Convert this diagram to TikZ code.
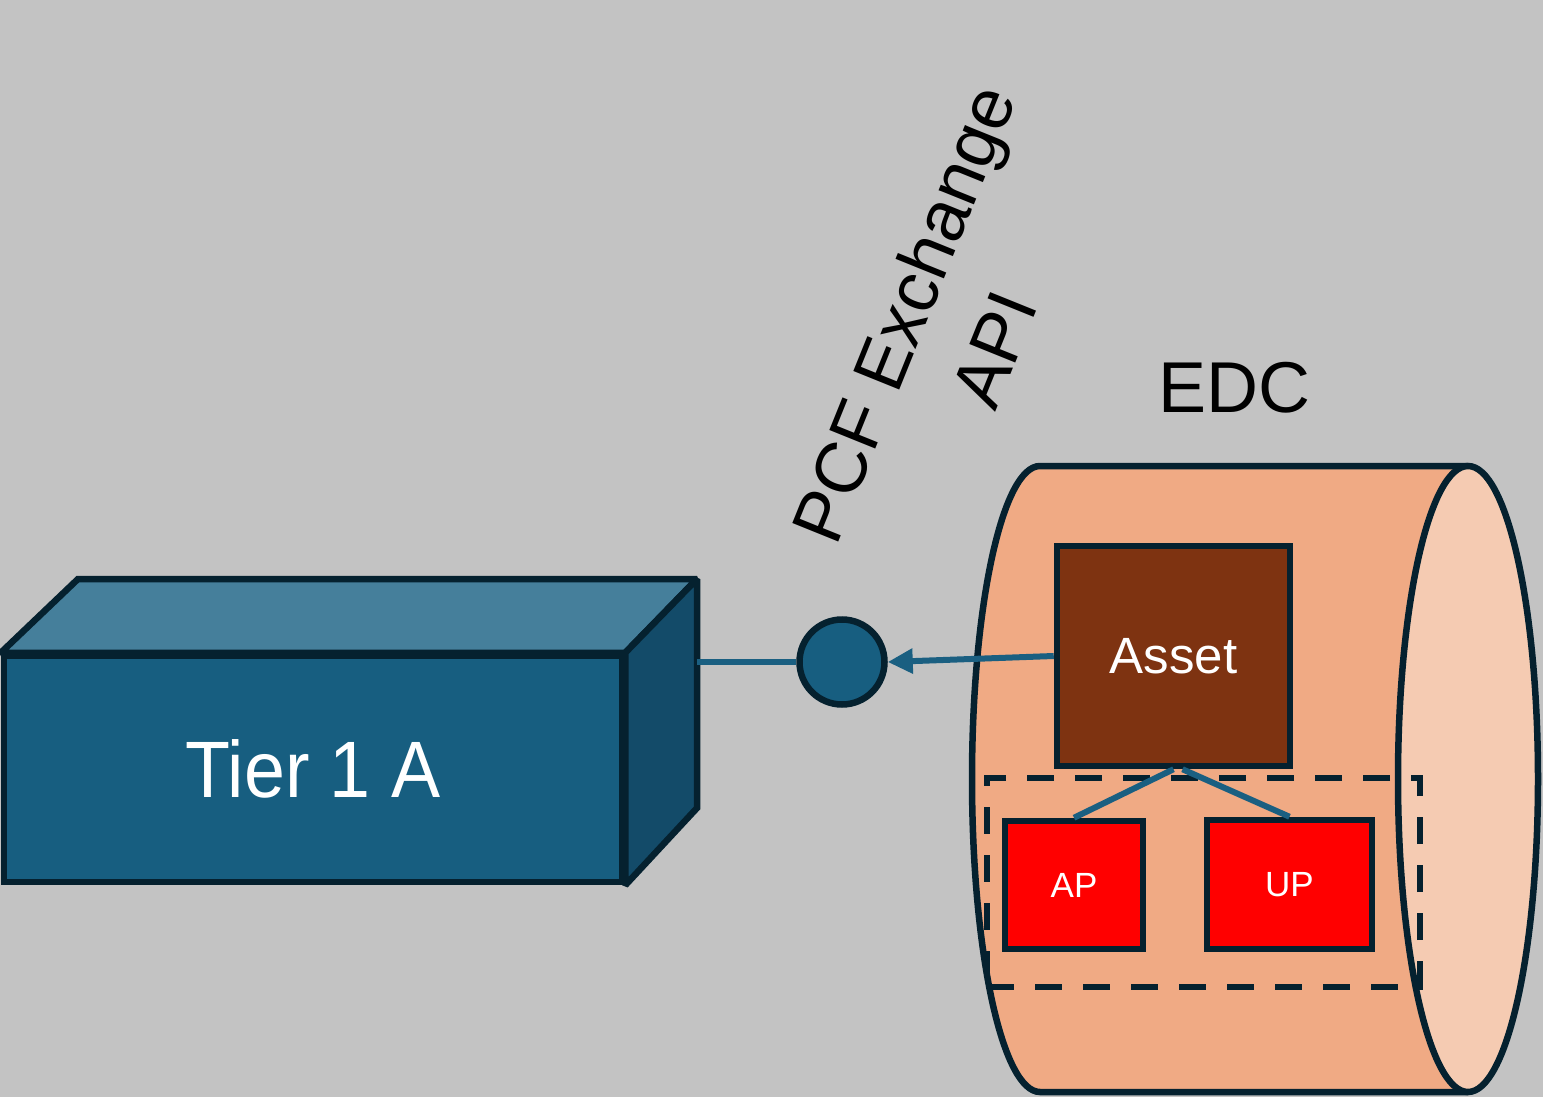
\documentclass[tikz,border=0pt]{standalone}
\usepackage{fontspec}
\setmainfont{Liberation Sans}
\usetikzlibrary{arrows.meta}
\definecolor{bg}{HTML}{C3C3C3}
\definecolor{ink}{HTML}{05212F}
\definecolor{front}{HTML}{175E80}
\definecolor{topf}{HTML}{457F9B}
\definecolor{sidef}{HTML}{134B69}
\definecolor{wire}{HTML}{1A5F81}
\definecolor{cylbody}{HTML}{F0AA84}
\definecolor{cylend}{HTML}{F5CBB2}
\definecolor{assetc}{HTML}{7E3311}
\definecolor{part}{HTML}{FF0000}
\begin{document}
\begin{tikzpicture}[x=1pt,y=-1pt,
  outline/.style={draw=ink, line width=6.5pt, miter limit=3},
  wirestyle/.style={draw=wire, line width=6pt},
  partbox/.style={outline, fill=part, text=white, inner sep=0pt,
    font=\fontsize{35}{42}\selectfont},
  bigtext/.style={text=black, inner sep=0pt, font=\fontsize{72}{97}\selectfont}]

% canvas
\fill[bg] (0,0) rectangle (1543,1097);
\useasboundingbox (0,0) rectangle (1543,1097);

% Tier 1 A block: front face, then top and side faces
\node[outline, fill=front, minimum width=618pt, minimum height=226pt,
      inner sep=0pt, text=white, font=\fontsize{80}{96}\selectfont]
      (tier) at (313,769) {\scalebox{0.92}[1]{Tier 1 A}};
\coordinate (backtop) at (697,579);
\coordinate (backbot) at (697,808);
\path[outline, miter limit=1.5, fill=topf] (tier.north west) -- (78,579) -- (backtop) -- (tier.north east) -- cycle;
\path[outline, miter limit=1.5, fill=sidef] (tier.north east) -- (backtop) -- (backbot) -- (tier.south east) -- cycle;

% interface point
\node[outline, circle, fill=front, minimum size=85pt, inner sep=0pt] (api) at (842,662) {};
\draw[wirestyle] (api.west) -- (api.west -| backtop);

% rotated interface label
\node[bigtext, rotate=68, align=center] (lbl) at (948,331) {PCF Exchange\\API};

% EDC cylinder
\path[outline, fill=cylbody] (1468,466) -- (1040,466)
  arc[start angle=270, end angle=90, x radius=68, y radius=313] -- (1468,1092);
\draw[outline, fill=cylend] (1468,779) ellipse [x radius=70, y radius=313];
\node[bigtext, anchor=base] (edc) at (1234,412) {EDC};

% contents
\node[outline, fill=assetc, minimum width=233pt, minimum height=220pt, inner sep=0pt,
      text=white, font=\fontsize{51}{61}\selectfont] (asset) at (1173.5,656) {Asset};
\node[draw=ink, line width=6pt, dash pattern=on 27pt off 21pt,
      minimum width=433pt, minimum height=209pt, inner sep=0pt] (grp) at (1203.5,882.5) {};
\node[partbox, minimum width=138pt, minimum height=128pt] (ap) at (1074,885) {AP};
\node[partbox, minimum width=165pt, minimum height=129pt] (up) at (1289.5,884.5) {UP};

% connectors
\draw[wirestyle] (asset.south) -- (ap.north);
\draw[wirestyle] ([xshift=9pt]asset.south) -- (up.north);
\draw[wirestyle, -{Triangle[length=25pt,width=24pt]}] (asset.west) -- (api.east);
\end{tikzpicture}
\end{document}
